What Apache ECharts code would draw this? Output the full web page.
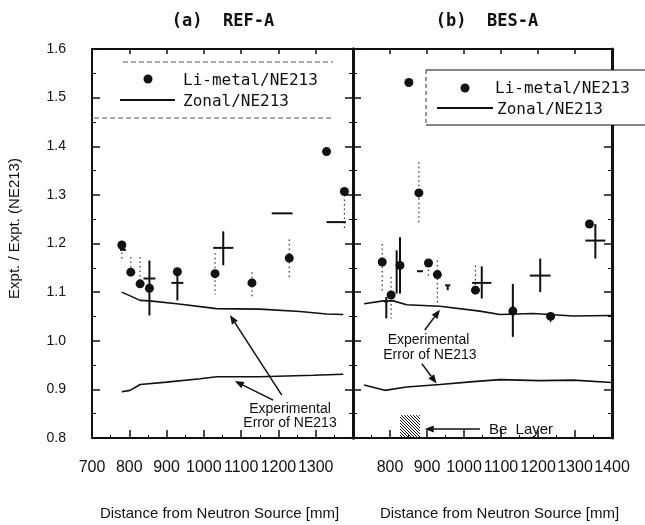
<!DOCTYPE html>
<html>
<head>
<meta charset="utf-8">
<script src="https://cdn.jsdelivr.net/npm/echarts@6/dist/echarts.min.js"></script>
<style>
  html, body { margin: 0; padding: 0; background: #fff; }
  #chart { width: 645px; height: 525px; }
</style>
</head>
<body>
<div id="chart"></div>
<script>
// ---------- (a) REF-A ----------
// Li-metal / NE213 ratios with dotted error ranges
const refDist   = [780, 804, 829, 854, 929, 1030, 1129, 1229, 1329, 1377];
const refRatio  = [1.197, 1.141, 1.117, 1.108, 1.142, 1.138, 1.119, 1.170, 1.389, 1.307];
const refErrLo  = [1.165, 1.140, 1.117, null, null, 1.095, 1.087, 1.131, null, 1.227];
const refErrHi  = [1.200, 1.172, 1.172, null, null, 1.180, 1.141, 1.208, null, 1.300];
// Zonal / NE213 points with solid error crosses (x half-width in mm, y low/high)
const refZonX   = [783, 854, 929, 1052, 1210, 1355];
const refZonY   = [1.187, 1.128, 1.119, 1.191, 1.262, 1.244];
const refZonDx  = [8, 16, 16, 27, 28, 26];
const refZonLo  = [1.187, 1.052, 1.083, 1.155, 1.262, 1.244];
const refZonHi  = [1.187, 1.165, 1.141, 1.225, 1.262, 1.244];
// Experimental error band of NE213
const refBandUpX = [780, 829, 855, 927, 1034, 1150, 1258, 1329, 1374];
const refBandUpY = [1.100, 1.083, 1.082, 1.076, 1.066, 1.065, 1.060, 1.055, 1.054];
const refBandLoX = [780, 802, 829, 900, 990, 1034, 1150, 1293, 1374];
const refBandLoY = [0.895, 0.898, 0.910, 0.915, 0.922, 0.926, 0.926, 0.929, 0.931];

// ---------- (b) BES-A ----------
const besDist   = [779, 803, 827, 851, 878, 904, 928, 1031, 1132, 1234, 1339];
const besRatio  = [1.162, 1.094, 1.155, 1.531, 1.304, 1.160, 1.136, 1.104, 1.061, 1.050, 1.240];
const besErrLo  = [1.097, 1.046, null, null, 1.240, 1.130, 1.076, 1.090, null, 1.035, null];
const besErrHi  = [1.199, 1.131, null, null, 1.367, 1.165, 1.165, 1.155, null, 1.050, null];
const besZonX   = [790, 818, 827, 881, 956, 1048, 1132, 1206, 1355];
const besZonY   = [1.081, 1.140, 1.155, 1.143, 1.114, 1.119, 1.061, 1.134, 1.206];
const besZonDx  = [6, 0, 10, 8, 7, 26, 0, 28, 27];
const besZonLo  = [1.046, 1.097, 1.097, 1.143, 1.104, 1.087, 1.008, 1.100, 1.169];
const besZonHi  = [1.090, 1.186, 1.213, 1.143, 1.114, 1.153, 1.117, 1.169, 1.240];
const besBandUpX = [730, 782, 809, 845, 935, 1043, 1097, 1187, 1295, 1399];
const besBandUpY = [1.076, 1.082, 1.082, 1.074, 1.071, 1.061, 1.054, 1.056, 1.051, 1.052];
const besBandLoX = [730, 786, 845, 935, 1025, 1097, 1205, 1295, 1399];
const besBandLoY = [0.909, 0.898, 0.905, 0.910, 0.916, 0.920, 0.918, 0.919, 0.914];
// Be layer position (mm) and drawn height on the ratio scale
const beLayerDist = [827, 881];
const beLayerSpan = [0.800, 0.847];

// Axis ticks
const distTicks = [700, 800, 900, 1000, 1100, 1200, 1300, 1400];
const ratioTicks = [0.8, 0.9, 1.0, 1.1, 1.2, 1.3, 1.4, 1.5, 1.6];

const zip = (a, b) => a.map((v, i) => [v, b[i]]);
const errRows = (x, lo, hi) => x.map((v, i) => [v, lo[i], hi[i]]).filter(r => r[1] !== null);
const crossRows = (x, y, dx, lo, hi) => x.map((v, i) => [v, y[i], dx[i], lo[i], hi[i]]);

const INK = '#111';
const LABEL_FONT = "'Liberation Sans', Arial, sans-serif";

function crossItem(params, api) {
  const x = api.value(0), y = api.value(1), dx = api.value(2), lo = api.value(3), hi = api.value(4);
  const c = api.coord([x, y]);
  const style = { stroke: INK, lineWidth: 2 };
  const children = [];
  if (dx > 0) {
    const l = api.coord([x - dx, y]), r = api.coord([x + dx, y]);
    children.push({ type: 'line', shape: { x1: l[0], y1: c[1], x2: r[0], y2: c[1] }, style });
  }
  if (hi > lo) {
    const t = api.coord([x, hi]), b = api.coord([x, lo]);
    children.push({ type: 'line', shape: { x1: c[0], y1: t[1], x2: c[0], y2: b[1] }, style });
  }
  return { type: 'group', children };
}

function dottedErrItem(params, api) {
  const x = api.value(0);
  const t = api.coord([x, api.value(2)]), b = api.coord([x, api.value(1)]);
  return {
    type: 'line',
    shape: { x1: t[0], y1: t[1], x2: b[0], y2: b[1] },
    style: { stroke: '#333', lineWidth: 1.2, lineDash: [1.5, 3] }
  };
}

// Hatched block marking the Be layer
function beLayerItem(params, api) {
  const p0 = api.coord([api.value(0), api.value(3)]);
  const p1 = api.coord([api.value(1), api.value(2)]);
  const x0 = p0[0], y0 = p0[1], x1 = p1[0], y1 = p1[1];
  const w = x1 - x0, h = y1 - y0;
  const children = [];
  // lines running top-left to bottom-right: y - y0 = (x - x0) - k
  for (let k = -h; k < w; k += 3) {
    let ax = x0 + k, ay = y0;
    if (ax < x0) { ay = y0 + (x0 - ax); ax = x0; }
    let bx = x0 + k + h, by = y1;
    if (bx > x1) { by = y1 - (bx - x1); bx = x1; }
    if (by > ay) {
      children.push({ type: 'line', shape: { x1: ax, y1: ay, x2: bx, y2: by },
        style: { stroke: INK, lineWidth: 1 } });
    }
  }
  return { type: 'group', children };
}

function xAxisPair(grid, hideMin, hideMax, nameShift) {
  const common = {
    type: 'value', gridIndex: grid, min: 700, max: 1400, interval: 100,
    splitLine: { show: false },
    axisLine: { onZero: false, lineStyle: { color: INK, width: 2 } }
  };
  return [
    Object.assign({}, common, {
      position: 'bottom',
      axisTick: { inside: true, length: 8, lineStyle: { color: INK, width: 1.5 } },
      minorTick: { show: true, splitNumber: 2, length: 3, lineStyle: { color: INK, width: 1 } },
      axisLabel: {
        margin: 22, fontSize: 16, color: INK, fontFamily: LABEL_FONT, hideOverlap: false,
        showMinLabel: !hideMin, showMaxLabel: !hideMax,
        formatter: v => distTicks.includes(v) ? String(v) : ''
      },
      name: 'Distance from Neutron Source [mm]',
      nameLocation: 'middle', nameGap: 68,
      nameTextStyle: { fontSize: 15, color: INK, fontFamily: LABEL_FONT, padding: nameShift }
    }),
    Object.assign({}, common, {
      position: 'top',
      axisTick: { inside: true, length: 5, lineStyle: { color: INK, width: 1.5 } },
      axisLabel: { show: false }
    })
  ];
}

function yAxisPair(grid, showLabels, leftWidth, rightWidth) {
  const common = {
    type: 'value', gridIndex: grid, min: 0.8, max: 1.6, interval: 0.1,
    splitLine: { show: false },
    axisTick: { inside: true, length: 8, lineStyle: { color: INK, width: 1.5 } },
    minorTick: { show: true, splitNumber: 2, length: 4, lineStyle: { color: INK, width: 1 } }
  };
  return [
    Object.assign({}, common, {
      position: 'left',
      axisLine: { onZero: false, lineStyle: { color: INK, width: leftWidth } },
      axisLabel: showLabels ? {
        margin: 26, fontSize: 14, color: INK, fontFamily: LABEL_FONT,
        formatter: v => ratioTicks.some(t => Math.abs(t - v) < 1e-6) ? v.toFixed(1) : ''
      } : { show: false },
      name: showLabels ? 'Expt. / Expt. (NE213)' : '',
      nameLocation: 'middle', nameGap: 70,
      nameTextStyle: { fontSize: 15, color: INK, fontFamily: LABEL_FONT, padding: [0, 0, 0, 30] }
    }),
    Object.assign({}, common, {
      position: 'right',
      axisLine: { onZero: false, lineStyle: { color: INK, width: rightWidth } },
      axisLabel: { show: false }
    })
  ];
}

const chart = echarts.init(document.getElementById('chart'), null, { renderer: 'canvas' });

const option = {
  animation: false,
  backgroundColor: '#fff',
  textStyle: { fontFamily: LABEL_FONT },
  grid: [
    { left: 92, top: 49, width: 261, height: 389, outerBoundsMode: 'none' },
    { left: 353, top: 49, width: 259, height: 389, outerBoundsMode: 'none' }
  ],
  xAxis: [].concat(xAxisPair(0, false, true, [0, 6, 0, 0]), xAxisPair(1, true, false, [0, 0, 0, 34])),
  yAxis: [].concat(yAxisPair(0, true, 2, 3), yAxisPair(1, false, 3, 3)),
  series: [
    // ---- panel (a)
    { type: 'line', name: 'NE213 error (upper)', xAxisIndex: 0, yAxisIndex: 0,
      data: zip(refBandUpX, refBandUpY), showSymbol: false, symbol: 'none',
      lineStyle: { color: INK, width: 1.6 } },
    { type: 'line', name: 'NE213 error (lower)', xAxisIndex: 0, yAxisIndex: 0,
      data: zip(refBandLoX, refBandLoY), showSymbol: false, symbol: 'none',
      lineStyle: { color: INK, width: 1.6 } },
    { type: 'custom', name: 'Li-metal error', xAxisIndex: 0, yAxisIndex: 0,
      renderItem: dottedErrItem, data: errRows(refDist, refErrLo, refErrHi), encode: { x: 0, y: [1, 2] } },
    { type: 'custom', name: 'Zonal/NE213', xAxisIndex: 0, yAxisIndex: 0,
      renderItem: crossItem, data: crossRows(refZonX, refZonY, refZonDx, refZonLo, refZonHi),
      encode: { x: 0, y: [1, 3, 4] } },
    { type: 'scatter', name: 'Li-metal/NE213', xAxisIndex: 0, yAxisIndex: 0,
      data: zip(refDist, refRatio), symbol: 'circle', symbolSize: 9,
      itemStyle: { color: INK, opacity: 1 } },
    // ---- panel (b)
    { type: 'line', name: 'NE213 error (upper) b', xAxisIndex: 2, yAxisIndex: 2,
      data: zip(besBandUpX, besBandUpY), showSymbol: false, symbol: 'none',
      lineStyle: { color: INK, width: 1.6 } },
    { type: 'line', name: 'NE213 error (lower) b', xAxisIndex: 2, yAxisIndex: 2,
      data: zip(besBandLoX, besBandLoY), showSymbol: false, symbol: 'none',
      lineStyle: { color: INK, width: 1.6 } },
    { type: 'custom', name: 'Li-metal error b', xAxisIndex: 2, yAxisIndex: 2,
      renderItem: dottedErrItem, data: errRows(besDist, besErrLo, besErrHi), encode: { x: 0, y: [1, 2] } },
    { type: 'custom', name: 'Zonal/NE213 b', xAxisIndex: 2, yAxisIndex: 2,
      renderItem: crossItem, data: crossRows(besZonX, besZonY, besZonDx, besZonLo, besZonHi),
      encode: { x: 0, y: [1, 3, 4] } },
    { type: 'scatter', name: 'Li-metal/NE213 b', xAxisIndex: 2, yAxisIndex: 2,
      data: zip(besDist, besRatio), symbol: 'circle', symbolSize: 9,
      itemStyle: { color: INK, opacity: 1 } },
    { type: 'custom', name: 'Be layer', xAxisIndex: 2, yAxisIndex: 2,
      renderItem: beLayerItem,
      data: [[beLayerDist[0], beLayerDist[1], beLayerSpan[0], beLayerSpan[1]]],
      encode: { x: [0, 1], y: [2, 3] } }
  ]
};
chart.setOption(option);

// ---------- annotations, placed in data coordinates ----------
const px = (grid, p) => chart.convertToPixel({ gridIndex: grid }, p);

function arrow(grid, from, to) {
  const a = px(grid, from), b = px(grid, to);
  const dx = b[0] - a[0], dy = b[1] - a[1];
  const len = Math.hypot(dx, dy), ux = dx / len, uy = dy / len;
  const hl = 9, hw = 3.5;
  const bx = b[0] - ux * hl, by = b[1] - uy * hl;
  return [
    { type: 'line', z: 50, shape: { x1: a[0], y1: a[1], x2: bx, y2: by },
      style: { stroke: INK, lineWidth: 1.5 } },
    { type: 'polygon', z: 50, shape: { points: [[b[0], b[1]],
        [bx - uy * hw, by + ux * hw], [bx + uy * hw, by - ux * hw]] },
      style: { fill: INK } }
  ];
}

function note(grid, at, text, size, weight) {
  const p = px(grid, at);
  return { type: 'text', z: 50, x: p[0], y: p[1],
    style: { text, fill: INK, font: (weight || 'normal') + ' ' + size + 'px ' + LABEL_FONT,
      textAlign: 'center', textVerticalAlign: 'middle' } };
}

const MONO = "'DejaVu Sans Mono', monospace";
const graphics = [
  // panel titles
  { type: 'text', x: 223, y: 22, style: { text: '(a)  REF-A', fill: INK,
      font: 'bold 17px ' + MONO, textAlign: 'center', textVerticalAlign: 'middle' } },
  { type: 'text', x: 487, y: 22, style: { text: '(b)  BES-A', fill: INK,
      font: 'bold 17px ' + MONO, textAlign: 'center', textVerticalAlign: 'middle' } },

  // legend of panel (a)
  { type: 'line', z: 40, shape: { x1: 123, y1: 62, x2: 333, y2: 62 },
    style: { stroke: '#555', lineWidth: 1, lineDash: [5, 3] } },
  { type: 'line', z: 40, shape: { x1: 94, y1: 118, x2: 333, y2: 118 },
    style: { stroke: '#555', lineWidth: 1, lineDash: [5, 3] } },
  { type: 'circle', z: 40, shape: { cx: 148, cy: 79, r: 4.5 }, style: { fill: INK } },
  { type: 'text', z: 40, x: 183, y: 81, style: { text: 'Li-metal/NE213', fill: INK,
      font: '16px ' + MONO, textVerticalAlign: 'middle' } },
  { type: 'line', z: 40, shape: { x1: 120, y1: 100, x2: 175, y2: 100 },
    style: { stroke: INK, lineWidth: 2 } },
  { type: 'text', z: 40, x: 183, y: 102, style: { text: 'Zonal/NE213', fill: INK,
      font: '16px ' + MONO, textVerticalAlign: 'middle' } },

  // legend of panel (b): white box over the frame
  { type: 'rect', z: 60, shape: { x: 426, y: 70, width: 230, height: 55 },
    style: { fill: '#fff' } },
  { type: 'line', z: 61, shape: { x1: 426, y1: 70, x2: 645, y2: 70 },
    style: { stroke: INK, lineWidth: 1.2 } },
  { type: 'line', z: 61, shape: { x1: 426, y1: 125, x2: 645, y2: 125 },
    style: { stroke: INK, lineWidth: 1.2 } },
  { type: 'line', z: 61, shape: { x1: 426, y1: 70, x2: 426, y2: 125 },
    style: { stroke: '#333', lineWidth: 1, lineDash: [4, 3] } },
  { type: 'circle', z: 61, shape: { cx: 465, cy: 88, r: 4.5 }, style: { fill: INK } },
  { type: 'text', z: 61, x: 495, y: 89, style: { text: 'Li-metal/NE213', fill: INK,
      font: '16px ' + MONO, textVerticalAlign: 'middle' } },
  { type: 'line', z: 61, shape: { x1: 437, y1: 108, x2: 493, y2: 108 },
    style: { stroke: INK, lineWidth: 2 } },
  { type: 'text', z: 61, x: 497, y: 110, style: { text: 'Zonal/NE213', fill: INK,
      font: '16px ' + MONO, textVerticalAlign: 'middle' } }
];

// panel (a) error-band callout
graphics.push(note(0, [1231, 0.859], 'Experimental', 14));
graphics.push(note(0, [1231, 0.830], 'Error of NE213', 14));
graphics.push(...arrow(0, [1209, 0.888], [1070, 1.053]));
graphics.push(...arrow(0, [1186, 0.878], [1083, 0.917]));
// panel (b) error-band callout
graphics.push(note(1, [904, 1.001], 'Experimental', 14));
graphics.push(note(1, [908, 0.970], 'Error of NE213', 14));
graphics.push(...arrow(1, [894, 1.022], [935, 1.064]));
graphics.push(...arrow(1, [886, 0.953], [926, 0.912]));
// Be layer label
graphics.push(note(1, [1154, 0.8175], 'Be  Layer', 15));
graphics.push(...arrow(1, [1043, 0.8185], [894, 0.8185]));

chart.setOption({ graphic: graphics });
</script>
</body>
</html>
